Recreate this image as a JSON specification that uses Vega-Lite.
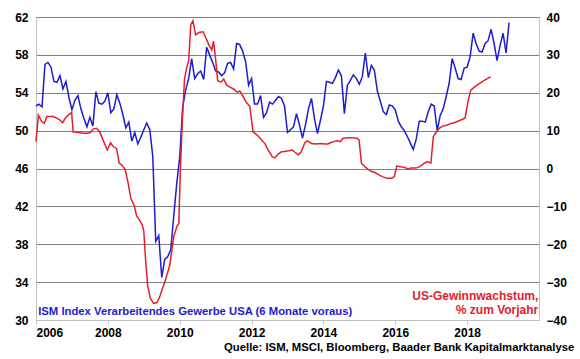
{
  "$schema": "https://vega.github.io/schema/vega-lite/v6.json",
  "width": 503,
  "height": 303,
  "autosize": "none",
  "padding": {"left": 36, "top": 17, "right": 41, "bottom": 39},
  "background": "white",
  "title": {
    "text": "Quelle: ISM, MSCI, Bloomberg, Baader Bank Kapitalmarktanalyse",
    "orient": "bottom",
    "anchor": "end",
    "dx": 8,
    "offset": 4,
    "font": "Liberation Sans",
    "fontSize": 11.3,
    "fontWeight": "bold",
    "color": "#000000"
  },
  "config": {
    "view": {"stroke": null},
    "axis": {
      "labelFont": "Liberation Sans",
      "labelFontSize": 12,
      "labelFontWeight": "bold",
      "labelColor": "#000000",
      "title": null
    }
  },
  "datasets": {
    "ism": [
      {"year": 2006.000, "value": 52.6}, {"year": 2006.083, "value": 52.8}, {"year": 2006.167, "value": 52.5}, {"year": 2006.250, "value": 57.0},
      {"year": 2006.333, "value": 57.2}, {"year": 2006.417, "value": 56.7}, {"year": 2006.500, "value": 55.2}, {"year": 2006.583, "value": 55.1},
      {"year": 2006.667, "value": 55.8}, {"year": 2006.750, "value": 54.4}, {"year": 2006.833, "value": 55.2}, {"year": 2006.917, "value": 53.5},
      {"year": 2007.000, "value": 52.2}, {"year": 2007.083, "value": 53.2}, {"year": 2007.167, "value": 53.7}, {"year": 2007.250, "value": 52.3},
      {"year": 2007.333, "value": 51.3}, {"year": 2007.417, "value": 50.4}, {"year": 2007.500, "value": 51.4}, {"year": 2007.583, "value": 50.5},
      {"year": 2007.667, "value": 54.1}, {"year": 2007.750, "value": 52.9}, {"year": 2007.833, "value": 52.8}, {"year": 2007.917, "value": 53.1},
      {"year": 2008.000, "value": 54.0}, {"year": 2008.083, "value": 51.9}, {"year": 2008.167, "value": 52.3}, {"year": 2008.250, "value": 53.8},
      {"year": 2008.333, "value": 52.9}, {"year": 2008.417, "value": 51.7}, {"year": 2008.500, "value": 50.3}, {"year": 2008.583, "value": 50.9},
      {"year": 2008.667, "value": 48.9}, {"year": 2008.750, "value": 49.8}, {"year": 2008.833, "value": 48.6}, {"year": 2008.917, "value": 49.3},
      {"year": 2009.000, "value": 50.1}, {"year": 2009.083, "value": 50.8}, {"year": 2009.167, "value": 50.1}, {"year": 2009.250, "value": 47.3},
      {"year": 2009.333, "value": 38.3}, {"year": 2009.417, "value": 38.9}, {"year": 2009.500, "value": 34.5}, {"year": 2009.583, "value": 36.4},
      {"year": 2009.667, "value": 36.7}, {"year": 2009.750, "value": 37.4}, {"year": 2009.833, "value": 40.9}, {"year": 2009.917, "value": 44.4},
      {"year": 2010.000, "value": 47.2}, {"year": 2010.083, "value": 52.5}, {"year": 2010.167, "value": 54.3}, {"year": 2010.250, "value": 55.5},
      {"year": 2010.333, "value": 57.6}, {"year": 2010.417, "value": 55.5}, {"year": 2010.500, "value": 56.0}, {"year": 2010.583, "value": 56.3},
      {"year": 2010.667, "value": 55.4}, {"year": 2010.750, "value": 58.8}, {"year": 2010.833, "value": 58.0}, {"year": 2010.917, "value": 57.2},
      {"year": 2011.000, "value": 56.3}, {"year": 2011.083, "value": 56.2}, {"year": 2011.167, "value": 55.8}, {"year": 2011.250, "value": 56.1},
      {"year": 2011.333, "value": 57.1}, {"year": 2011.417, "value": 57.2}, {"year": 2011.500, "value": 56.5}, {"year": 2011.583, "value": 59.2},
      {"year": 2011.667, "value": 59.1}, {"year": 2011.750, "value": 58.4}, {"year": 2011.833, "value": 57.3}, {"year": 2011.917, "value": 54.8},
      {"year": 2012.000, "value": 55.5}, {"year": 2012.083, "value": 52.8}, {"year": 2012.167, "value": 52.8}, {"year": 2012.250, "value": 53.7},
      {"year": 2012.333, "value": 51.4}, {"year": 2012.417, "value": 51.9}, {"year": 2012.500, "value": 53.0}, {"year": 2012.583, "value": 52.8},
      {"year": 2012.667, "value": 53.2}, {"year": 2012.750, "value": 53.6}, {"year": 2012.833, "value": 53.4}, {"year": 2012.917, "value": 52.6},
      {"year": 2013.000, "value": 49.8}, {"year": 2013.083, "value": 50.1}, {"year": 2013.167, "value": 50.4}, {"year": 2013.250, "value": 51.8},
      {"year": 2013.333, "value": 50.6}, {"year": 2013.417, "value": 49.2}, {"year": 2013.500, "value": 50.6}, {"year": 2013.583, "value": 52.3},
      {"year": 2013.667, "value": 53.4}, {"year": 2013.750, "value": 51.3}, {"year": 2013.833, "value": 49.7}, {"year": 2013.917, "value": 51.1},
      {"year": 2014.000, "value": 52.6}, {"year": 2014.083, "value": 55.2}, {"year": 2014.167, "value": 55.1}, {"year": 2014.250, "value": 55.0},
      {"year": 2014.333, "value": 55.6}, {"year": 2014.417, "value": 56.4}, {"year": 2014.500, "value": 55.8}, {"year": 2014.583, "value": 51.8},
      {"year": 2014.667, "value": 54.8}, {"year": 2014.750, "value": 55.3}, {"year": 2014.833, "value": 55.9}, {"year": 2014.917, "value": 55.5},
      {"year": 2015.000, "value": 54.9}, {"year": 2015.083, "value": 55.7}, {"year": 2015.167, "value": 58.2}, {"year": 2015.250, "value": 55.6},
      {"year": 2015.333, "value": 56.9}, {"year": 2015.417, "value": 56.4}, {"year": 2015.500, "value": 54.2}, {"year": 2015.583, "value": 53.1},
      {"year": 2015.667, "value": 52.0}, {"year": 2015.750, "value": 51.7}, {"year": 2015.833, "value": 52.7}, {"year": 2015.917, "value": 52.6},
      {"year": 2016.000, "value": 52.2}, {"year": 2016.083, "value": 51.0}, {"year": 2016.167, "value": 50.4}, {"year": 2016.250, "value": 50.0},
      {"year": 2016.333, "value": 49.4}, {"year": 2016.417, "value": 48.7}, {"year": 2016.500, "value": 48.0}, {"year": 2016.583, "value": 49.1},
      {"year": 2016.667, "value": 51.0}, {"year": 2016.750, "value": 51.0}, {"year": 2016.833, "value": 50.9}, {"year": 2016.917, "value": 52.0},
      {"year": 2017.000, "value": 52.8}, {"year": 2017.083, "value": 52.6}, {"year": 2017.167, "value": 50.0}, {"year": 2017.250, "value": 51.6},
      {"year": 2017.333, "value": 52.3}, {"year": 2017.417, "value": 53.6}, {"year": 2017.500, "value": 55.0}, {"year": 2017.583, "value": 57.6},
      {"year": 2017.667, "value": 56.6}, {"year": 2017.750, "value": 55.5}, {"year": 2017.833, "value": 55.4}, {"year": 2017.917, "value": 56.6},
      {"year": 2018.000, "value": 56.7}, {"year": 2018.083, "value": 57.8}, {"year": 2018.167, "value": 60.3}, {"year": 2018.250, "value": 59.2},
      {"year": 2018.333, "value": 58.4}, {"year": 2018.417, "value": 58.3}, {"year": 2018.500, "value": 59.2}, {"year": 2018.583, "value": 59.5},
      {"year": 2018.667, "value": 60.7}, {"year": 2018.750, "value": 59.2}, {"year": 2018.833, "value": 57.4}, {"year": 2018.917, "value": 59.0},
      {"year": 2019.000, "value": 60.3}, {"year": 2019.083, "value": 58.2}, {"year": 2019.167, "value": 61.4}
    ],
    "eps": [
      {"year": 2006.000, "value": 7.1}, {"year": 2006.067, "value": 14.1}, {"year": 2006.158, "value": 12.4}, {"year": 2006.233, "value": 11.9},
      {"year": 2006.300, "value": 13.7}, {"year": 2006.392, "value": 13.7}, {"year": 2006.483, "value": 13.7}, {"year": 2006.575, "value": 13.3},
      {"year": 2006.667, "value": 12.8}, {"year": 2006.742, "value": 12.1}, {"year": 2006.808, "value": 13.2}, {"year": 2006.900, "value": 14.1},
      {"year": 2006.992, "value": 14.8}, {"year": 2007.033, "value": 9.7}, {"year": 2007.175, "value": 9.5}, {"year": 2007.317, "value": 9.3},
      {"year": 2007.425, "value": 9.3}, {"year": 2007.517, "value": 9.5}, {"year": 2007.592, "value": 10.4}, {"year": 2007.683, "value": 10.6},
      {"year": 2007.775, "value": 9.7}, {"year": 2007.867, "value": 7.5}, {"year": 2007.983, "value": 4.9}, {"year": 2008.075, "value": 6.8},
      {"year": 2008.150, "value": 5.8}, {"year": 2008.242, "value": 5.3}, {"year": 2008.317, "value": 1.4}, {"year": 2008.408, "value": 0.7},
      {"year": 2008.483, "value": -0.3}, {"year": 2008.567, "value": -4.0}, {"year": 2008.642, "value": -8.0}, {"year": 2008.733, "value": -9.7},
      {"year": 2008.800, "value": -12.5}, {"year": 2008.875, "value": -13.5}, {"year": 2008.958, "value": -14.9}, {"year": 2009.000, "value": -16.5},
      {"year": 2009.050, "value": -24.0}, {"year": 2009.108, "value": -31.0}, {"year": 2009.183, "value": -34.3}, {"year": 2009.275, "value": -35.6},
      {"year": 2009.367, "value": -35.4}, {"year": 2009.442, "value": -33.9}, {"year": 2009.508, "value": -32.1}, {"year": 2009.600, "value": -29.5},
      {"year": 2009.725, "value": -25.5}, {"year": 2009.783, "value": -21.5}, {"year": 2009.833, "value": -18.0}, {"year": 2009.925, "value": -15.2},
      {"year": 2009.975, "value": -14.5}, {"year": 2010.017, "value": -0.8}, {"year": 2010.075, "value": 13.0}, {"year": 2010.133, "value": 23.6},
      {"year": 2010.192, "value": 26.5}, {"year": 2010.250, "value": 28.5}, {"year": 2010.308, "value": 37.9}, {"year": 2010.367, "value": 39.0},
      {"year": 2010.442, "value": 35.3}, {"year": 2010.533, "value": 35.9}, {"year": 2010.650, "value": 36.1}, {"year": 2010.742, "value": 34.2},
      {"year": 2010.817, "value": 32.5}, {"year": 2010.892, "value": 31.3}, {"year": 2010.942, "value": 33.6}, {"year": 2010.992, "value": 29.5},
      {"year": 2011.058, "value": 23.2}, {"year": 2011.150, "value": 22.8}, {"year": 2011.225, "value": 23.6}, {"year": 2011.308, "value": 22.0},
      {"year": 2011.400, "value": 21.5}, {"year": 2011.500, "value": 21.0}, {"year": 2011.592, "value": 20.2}, {"year": 2011.675, "value": 20.4},
      {"year": 2011.767, "value": 19.0}, {"year": 2011.850, "value": 17.5}, {"year": 2011.950, "value": 16.4}, {"year": 2012.042, "value": 9.7},
      {"year": 2012.167, "value": 8.7}, {"year": 2012.292, "value": 7.4}, {"year": 2012.375, "value": 6.5}, {"year": 2012.458, "value": 4.9},
      {"year": 2012.575, "value": 3.1}, {"year": 2012.650, "value": 2.8}, {"year": 2012.742, "value": 3.8}, {"year": 2012.833, "value": 4.4},
      {"year": 2012.917, "value": 4.5}, {"year": 2013.033, "value": 4.7}, {"year": 2013.133, "value": 4.9}, {"year": 2013.208, "value": 4.3},
      {"year": 2013.300, "value": 3.6}, {"year": 2013.375, "value": 4.3}, {"year": 2013.483, "value": 6.8}, {"year": 2013.550, "value": 7.3},
      {"year": 2013.667, "value": 6.6}, {"year": 2013.792, "value": 6.5}, {"year": 2013.917, "value": 6.6}, {"year": 2014.042, "value": 6.5},
      {"year": 2014.125, "value": 6.5}, {"year": 2014.192, "value": 6.8}, {"year": 2014.275, "value": 7.1}, {"year": 2014.383, "value": 7.3},
      {"year": 2014.467, "value": 7.1}, {"year": 2014.550, "value": 8.0}, {"year": 2014.667, "value": 8.1}, {"year": 2014.792, "value": 8.1},
      {"year": 2014.933, "value": 8.0}, {"year": 2014.992, "value": 7.5}, {"year": 2015.058, "value": 1.4}, {"year": 2015.150, "value": 0.5},
      {"year": 2015.242, "value": -0.2}, {"year": 2015.333, "value": -0.8}, {"year": 2015.425, "value": -1.0}, {"year": 2015.542, "value": -1.7},
      {"year": 2015.658, "value": -2.2}, {"year": 2015.767, "value": -2.6}, {"year": 2015.900, "value": -2.6}, {"year": 2015.975, "value": -2.1},
      {"year": 2016.042, "value": 0.7}, {"year": 2016.108, "value": 0.5}, {"year": 2016.250, "value": 0.3}, {"year": 2016.367, "value": -0.2},
      {"year": 2016.433, "value": 0.1}, {"year": 2016.575, "value": 0.1}, {"year": 2016.683, "value": 0.5}, {"year": 2016.808, "value": 1.4},
      {"year": 2016.900, "value": 1.8}, {"year": 2016.992, "value": 1.4}, {"year": 2017.058, "value": 8.4}, {"year": 2017.133, "value": 9.5},
      {"year": 2017.225, "value": 10.6}, {"year": 2017.317, "value": 11.2}, {"year": 2017.450, "value": 11.5}, {"year": 2017.550, "value": 11.9},
      {"year": 2017.642, "value": 12.1}, {"year": 2017.775, "value": 12.6}, {"year": 2017.942, "value": 13.3}, {"year": 2018.033, "value": 18.1},
      {"year": 2018.100, "value": 20.7}, {"year": 2018.192, "value": 21.4}, {"year": 2018.283, "value": 22.1}, {"year": 2018.383, "value": 22.7},
      {"year": 2018.500, "value": 23.4}, {"year": 2018.608, "value": 24.0}, {"year": 2018.658, "value": 24.2}
    ]
  },
  "encoding": {
    "x": {
      "field": "year",
      "type": "quantitative",
      "scale": {"domain": [2006, 2020], "nice": false, "zero": false},
      "axis": {
        "values": [2006, 2008, 2010, 2012, 2014, 2016, 2018],
        "format": "d",
        "grid": false,
        "domainColor": "#c0c0c0",
        "tickColor": "#c0c0c0",
        "tickSize": 4,
        "labelPadding": 3,
        "zindex": 1
      }
    }
  },
  "layer": [
    {
      "data": {"name": "ism"},
      "encoding": {
        "y": {
          "field": "value",
          "type": "quantitative",
          "scale": {"domain": [30, 62], "nice": false, "zero": false},
          "axis": {
            "orient": "left",
            "values": [30, 34, 38, 42, 46, 50, 54, 58, 62],
            "grid": true,
            "gridColor": "#808080",
            "gridOpacity": 1,
            "domainColor": "#c0c0c0",
            "ticks": false,
            "labelPadding": 8
          }
        }
      },
      "layer": [
        {"mark": {"type": "line", "color": "#1c1cd0", "strokeWidth": 1.5}},
        {
          "transform": [{"filter": "datum.year == 2006"}],
          "mark": {
            "type": "text",
            "text": "ISM Index Verarbeitendes Gewerbe USA (6 Monate voraus)",
            "align": "left",
            "baseline": "middle",
            "font": "Liberation Sans",
            "fontSize": 11.3,
            "fontWeight": "bold",
            "color": "#1c1cd0"
          },
          "encoding": {"x": {"datum": 2006.06}, "y": {"datum": 30.8}}
        }
      ]
    },
    {
      "data": {"name": "eps"},
      "encoding": {
        "y": {
          "field": "value",
          "type": "quantitative",
          "scale": {"domain": [-40, 40], "nice": false, "zero": false},
          "axis": {
            "orient": "right",
            "values": [-40, -30, -20, -10, 0, 10, 20, 30, 40],
            "grid": false,
            "domainColor": "#c0c0c0",
            "ticks": false,
            "labelPadding": 7
          }
        }
      },
      "layer": [
        {"mark": {"type": "line", "color": "#e3202a", "strokeWidth": 1.5}},
        {
          "transform": [{"filter": "datum.year == 2006"}],
          "mark": {
            "type": "text",
            "text": ["US-Gewinnwachstum,", "% zum Vorjahr"],
            "align": "right",
            "baseline": "top",
            "lineHeight": 14,
            "font": "Liberation Sans",
            "fontSize": 12,
            "fontWeight": "bold",
            "color": "#e3202a"
          },
          "encoding": {"x": {"datum": 2019.98}, "y": {"datum": -32.3}}
        }
      ]
    }
  ],
  "resolve": {"scale": {"y": "independent"}}
}
